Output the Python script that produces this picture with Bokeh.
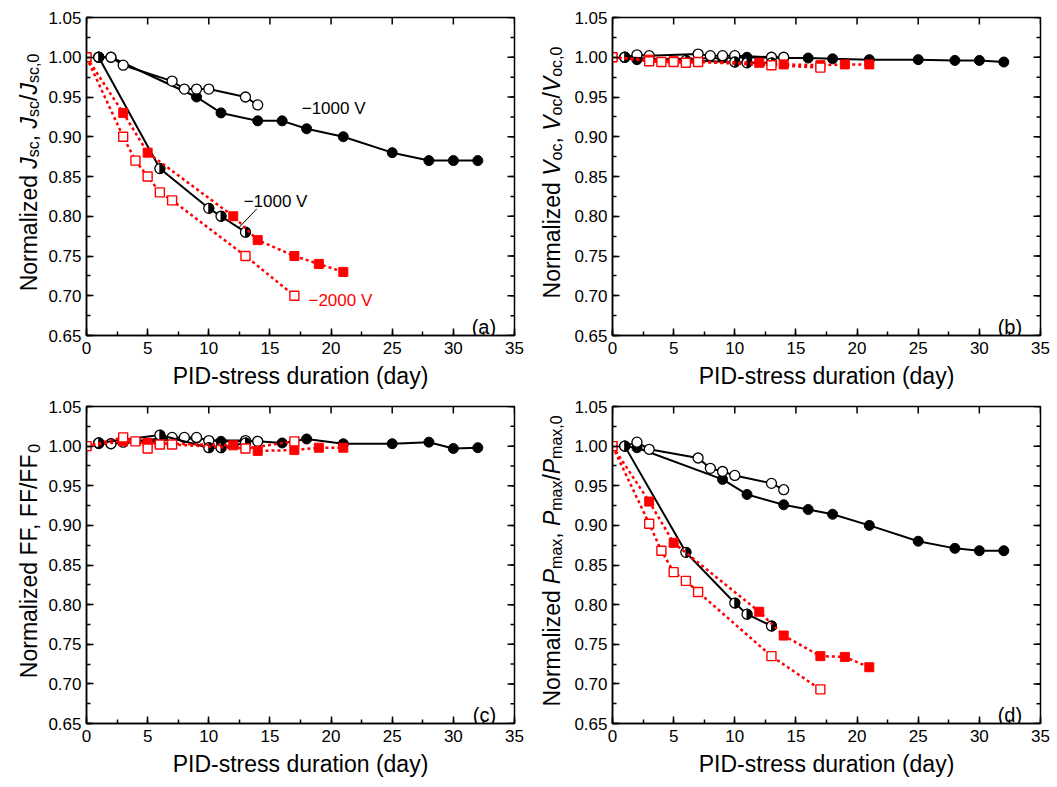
import math
from bokeh.plotting import figure
from bokeh.models import Range1d, FixedTicker, PrintfTickFormatter, Label
from bokeh.layouts import row, column
from bokeh.core.properties import value
from bokeh.embed import file_html
from bokeh.resources import INLINE

FONT = "Liberation Sans"
RED = "#ff0000"

# ---------------- data ----------------
days_filled = [1, 2, 9, 11, 14, 16, 18, 21, 25, 28, 30, 32]
days_open = [1, 2, 3, 7, 8, 9, 10, 13, 14]
days_half = [1, 6, 10, 11, 13]
days_red_filled = [0, 3, 5, 12, 14, 17, 19, 21]
days_red_open = [0, 3, 4, 5, 6, 7, 13, 17]

jsc_filled = [1.00, 1.00, 0.95, 0.93, 0.92, 0.92, 0.91, 0.90, 0.88, 0.87, 0.87, 0.87]
jsc_open = [1.00, 1.00, 0.99, 0.97, 0.96, 0.96, 0.96, 0.95, 0.94]
jsc_half = [1.00, 0.86, 0.81, 0.80, 0.78]
jsc_red_filled = [1.00, 0.93, 0.88, 0.80, 0.77, 0.75, 0.74, 0.73]
jsc_red_open = [1.00, 0.90, 0.87, 0.85, 0.83, 0.82, 0.75, 0.70]

voc_filled = [1.000, 0.997, 0.999, 1.000, 0.999, 0.999, 0.998, 0.997, 0.997, 0.996, 0.996, 0.994]
voc_open = [1.000, 1.003, 1.002, 1.004, 1.002, 1.002, 1.002, 1.000, 1.000]
voc_half = [1.000, 0.996, 0.994, 0.993, 0.993]
voc_red_filled = [1.000, 0.997, 0.995, 0.993, 0.991, 0.990, 0.991, 0.991]
voc_red_open = [1.000, 0.995, 0.994, 0.994, 0.993, 0.994, 0.990, 0.987]

ff_filled = [1.003, 1.003, 1.010, 1.006, 1.006, 1.004, 1.009, 1.003, 1.003, 1.005, 0.997, 0.998]
ff_open = [1.004, 1.003, 1.005, 1.011, 1.011, 1.011, 1.007, 1.007, 1.006]
ff_half = [1.004, 1.014, 0.998, 0.998, 1.004]
ff_red_filled = [1.000, 1.006, 1.004, 1.001, 0.994, 0.995, 0.998, 0.998]
ff_red_open = [1.000, 1.011, 1.006, 0.997, 1.002, 1.002, 0.997, 1.006]

pmax_filled = [1.000, 0.998, 0.958, 0.939, 0.926, 0.920, 0.914, 0.900, 0.880, 0.871, 0.868, 0.868]
pmax_open = [1.000, 1.005, 0.996, 0.985, 0.972, 0.968, 0.963, 0.953, 0.945]
pmax_half = [1.000, 0.866, 0.802, 0.788, 0.773]
pmax_red_filled = [1.000, 0.930, 0.878, 0.791, 0.761, 0.735, 0.734, 0.721]
pmax_red_open = [1.000, 0.902, 0.868, 0.841, 0.830, 0.816, 0.735, 0.693]

x_ticks = [0, 5, 10, 15, 20, 25, 30, 35]
x_minor = [2.5 * i for i in range(15)]
y_ticks = [0.65, 0.70, 0.75, 0.80, 0.85, 0.90, 0.95, 1.00, 1.05]
y_minor = [0.65 + 0.025 * i for i in range(17)]

x_title = "PID-stress duration (day)"
ylab_a = [("Normalized ", "n"), ("J", "i"), ("sc", "s"), (", ", "n"), ("J", "i"), ("sc", "s"), ("/", "n"), ("J", "i"), ("sc,0", "s")]
ylab_b = [("Normalized ", "n"), ("V", "i"), ("oc", "s"), (", ", "n"), ("V", "i"), ("oc", "s"), ("/", "n"), ("V", "i"), ("oc,0", "s")]
ylab_c = [("Normalized FF, FF/FF", "n"), ("0", "s")]
ylab_d = [("Normalized ", "n"), ("P", "i"), ("max", "s"), (", ", "n"), ("P", "i"), ("max", "s"), ("/", "n"), ("P", "i"), ("max,0", "s")]

# approximate Helvetica/Arial advance widths (em)
CW = {'N': .722, 'o': .556, 'r': .333, 'm': .833, 'a': .556, 'l': .222, 'i': .222, 'z': .5,
      'e': .556, 'd': .556, ' ': .278, 'J': .5, 's': .5, 'c': .5, ',': .278, '/': .278,
      '0': .556, 'V': .667, 'F': .611, 'P': .667, 'x': .5}


def text_w(t, fs):
    return sum(CW.get(ch, .556) for ch in t) * fs


FRAME_W = 428
FRAME_H = 318
X0, X1, Y0, Y1 = 0, 35, 0.65, 1.05
PX_X = (X1 - X0) / FRAME_W
PX_Y = (Y1 - Y0) / FRAME_H


def make_panel(h, left, right, top, bottom, tag, filled, opn, half, rfilled, ropen):
    p = figure(width=left + FRAME_W + right, height=h,
               x_range=Range1d(X0, X1), y_range=Range1d(Y0, Y1),
               output_backend="svg", toolbar_location=None,
               min_border_left=left, min_border_right=right,
               min_border_top=top, min_border_bottom=bottom)
    p.xgrid.visible = False
    p.ygrid.visible = False
    p.outline_line_color = "black"
    p.outline_line_width = 1.5

    p.xaxis.ticker = FixedTicker(ticks=x_ticks, minor_ticks=x_minor)
    p.yaxis.ticker = FixedTicker(ticks=y_ticks, minor_ticks=y_minor)
    p.yaxis.formatter = PrintfTickFormatter(format="%.2f")
    for ax in (p.xaxis[0], p.yaxis[0]):
        ax.major_tick_in = 7
        ax.major_tick_out = 0
        ax.minor_tick_in = 4
        ax.minor_tick_out = 0
        ax.axis_line_width = 1.5
        ax.major_tick_line_width = 1.5
        ax.minor_tick_line_width = 1.5
        ax.major_label_text_font = FONT
        ax.major_label_text_font_size = "17px"
        ax.major_label_text_color = "black"
    p.xaxis.major_label_standoff = 6
    p.yaxis.major_label_standoff = 5
    p.xaxis.axis_label = x_title
    p.xaxis.axis_label_text_font = FONT
    p.xaxis.axis_label_text_font_size = "23px"
    p.xaxis.axis_label_text_font_style = "normal"
    p.xaxis.axis_label_text_color = "black"
    p.xaxis.axis_label_standoff = 6

    # mirrored inward ticks on top (major only) and right (major + minor)
    p.segment(x0=x_ticks, y0=[Y1] * len(x_ticks), x1=x_ticks, y1=[Y1 - 7 * PX_Y] * len(x_ticks),
              line_color="black", line_width=1.5)
    p.segment(x0=[X1] * len(y_ticks), y0=y_ticks, x1=[X1 - 7 * PX_X] * len(y_ticks), y1=y_ticks,
              line_color="black", line_width=1.5)
    p.segment(x0=[X1] * len(y_minor), y0=y_minor, x1=[X1 - 4 * PX_X] * len(y_minor), y1=y_minor,
              line_color="black", line_width=1.5)

    # black series
    p.line(days_filled, filled, line_color="black", line_width=2)
    p.scatter(days_filled, filled, marker="circle", size=10, fill_color="black", line_color="black")
    p.line(days_open, opn, line_color="black", line_width=2)
    p.scatter(days_open, opn, marker="circle", size=10, fill_color="white", line_color="black", line_width=1.3)
    p.line(days_half, half, line_color="black", line_width=2)
    p.scatter(days_half, half, marker="circle", size=10, fill_color="white", line_color="black", line_width=1.3)
    p.wedge(days_half, half, radius=5, radius_units="screen", start_angle=-math.pi / 2,
            end_angle=math.pi / 2, fill_color="black", line_color="black", line_width=1)
    # red series
    p.line(days_red_filled, rfilled, line_color=RED, line_width=2.5, line_dash="3 3")
    p.scatter(days_red_filled, rfilled, marker="square", size=9, fill_color=RED, line_color=RED)
    p.line(days_red_open, ropen, line_color=RED, line_width=2.5, line_dash="3 3")
    p.scatter(days_red_open, ropen, marker="square", size=9, fill_color="white", line_color=RED, line_width=1.4)

    # panel tag
    p.add_layout(Label(x=33.5, y=0.661, text=tag, text_font=FONT, text_font_size="20px",
                       text_align="right", text_baseline="alphabetic", text_color="black"))
    return p


def label_fig(width, h, top, bottom, xbase, pieces):
    # frame of this strip lines up with the panel frame: 1 unit = 1 px
    f = figure(width=width, height=h, x_range=Range1d(0, width), y_range=Range1d(0, FRAME_H),
               output_backend="svg", toolbar_location=None, x_axis_type=None, y_axis_type=None,
               min_border_left=0, min_border_right=0, min_border_top=top, min_border_bottom=bottom)
    f.outline_line_color = None
    f.xgrid.visible = False
    f.ygrid.visible = False
    fs, sfs = 23, 16
    sizes = [sfs if st == "s" else fs for _, st in pieces]
    widths = [text_w(t, s) for (t, _), s in zip(pieces, sizes)]
    pos = (FRAME_H - sum(widths)) / 2 + 4
    for (t, st), s, w in zip(pieces, sizes, widths):
        f.text(x=[xbase + (5 if st == "s" else 0)], y=[pos], text=[t.strip()],
               angle=math.pi / 2, text_font=value(FONT), text_font_size=value(f"{s}px"),
               text_font_style=value("italic" if st == "i" else "normal"),
               text_align="left", text_baseline="alphabetic", text_color="black")
        pos += w
    return f


TOP_H, BOT_H = 397, 382
pa = make_panel(TOP_H, 42, 12, 17, 62, "(a)", jsc_filled, jsc_open, jsc_half, jsc_red_filled, jsc_red_open)
pb = make_panel(TOP_H, 42, 10, 17, 62, "(b)", voc_filled, voc_open, voc_half, voc_red_filled, voc_red_open)
pc = make_panel(BOT_H, 42, 12, 9, 55, "(c)", ff_filled, ff_open, ff_half, ff_red_filled, ff_red_open)
pd = make_panel(BOT_H, 42, 10, 9, 55, "(d)", pmax_filled, pmax_open, pmax_half, pmax_red_filled, pmax_red_open)

la = label_fig(44, TOP_H, 17, 62, 28, ylab_a)
lb = label_fig(44, TOP_H, 17, 62, 25, ylab_b)
lc = label_fig(44, BOT_H, 9, 55, 28, ylab_c)
ld = label_fig(44, BOT_H, 9, 55, 25, ylab_d)

# annotations in panel (a)
pa.add_layout(Label(x=17.6, y=0.936, text="\u22121000 V", text_font=FONT, text_font_size="17px",
                    text_baseline="alphabetic", text_color="black"))
pa.add_layout(Label(x=12.85, y=0.819, text="\u22121000 V", text_font=FONT, text_font_size="17px",
                    text_baseline="alphabetic", text_color="black"))
pa.add_layout(Label(x=18.15, y=0.694, text="\u22122000 V", text_font=FONT, text_font_size="17px",
                    text_baseline="alphabetic", text_color=RED))
pa.segment(x0=[13.93], y0=[0.8094], x1=[12.49], y1=[0.7862], line_color="black", line_width=1)

layout = column(row(la, pa, lb, pb), row(lc, pc, ld, pd))
open("out.html", "w").write(file_html(layout, INLINE))
